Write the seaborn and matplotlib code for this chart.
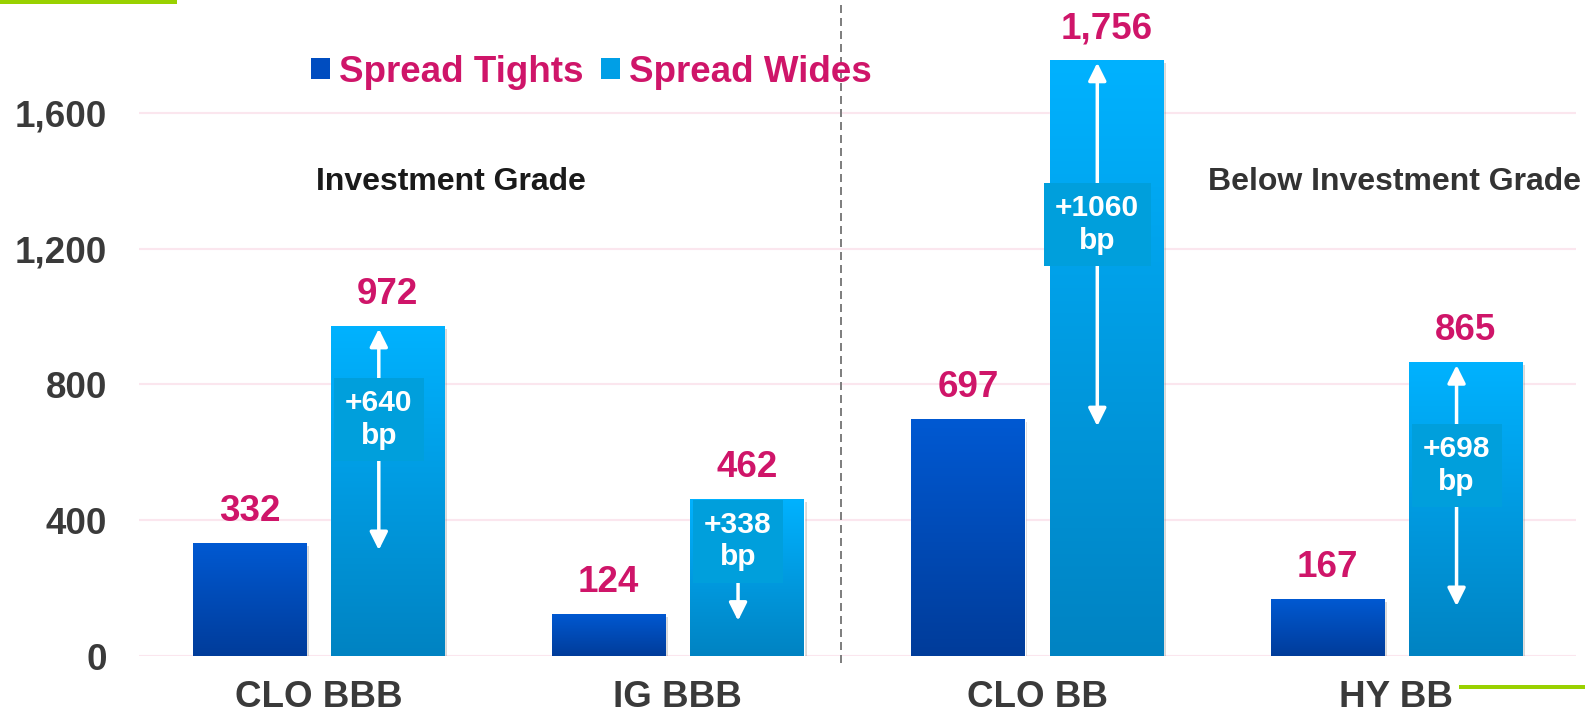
import numpy as np
import pandas as pd
import matplotlib
matplotlib.use("Agg")
import matplotlib.pyplot as plt
import seaborn as sns
from matplotlib.patches import Patch, Rectangle
from matplotlib.colors import LinearSegmentedColormap
import matplotlib.patheffects as pe

# ---------------- data ----------------
categories = ["CLO BBB", "IG BBB", "CLO BB", "HY BB"]
series = ["Spread Tights", "Spread Wides"]
tights = [332, 124, 697, 167]
wides = [972, 462, 1756, 865]
deltas = ["+640\nbp", "+338\nbp", "+1060\nbp", "+698\nbp"]
yticks = [0, 400, 800, 1200, 1600]
section_labels = ["Investment Grade", "Below Investment Grade"]

df = pd.DataFrame({
    "category": categories * 2,
    "series": [series[0]] * len(categories) + [series[1]] * len(categories),
    "value": tights + wides,
})

# ---------------- style ----------------
sns.set_theme(style="white")
plt.rcParams["font.family"] = ["Liberation Sans", "DejaVu Sans"]
plt.rcParams["font.weight"] = "bold"

W, H = 1585, 716
MAGENTA = "#CF1569"
TXT = "#3a3a3a"
FS = 26.5

fig = plt.figure(figsize=(W / 100, H / 100), dpi=100)
ax = fig.add_axes([139 / W, 60 / H, 1437 / W, 644.9 / H])

palette = {series[0]: "#004BB8", series[1]: "#009BE2"}
sns.barplot(data=df, x="category", y="value", hue="series", order=categories,
            hue_order=series, palette=palette, width=0.77, gap=0.18,
            saturation=1, ax=ax, legend=False, zorder=2, errorbar=None)

cmaps = [
    LinearSegmentedColormap.from_list("t", ["#003C9A", "#0059D2"]),
    LinearSegmentedColormap.from_list("w", ["#0083C2", "#00B2FF"]),
]
grad = np.linspace(0, 1, 256)[:, None]
for ci, cont in enumerate(ax.containers):
    for bar in cont:
        bar.set_path_effects([pe.SimplePatchShadow(offset=(2, -2), shadow_rgbFace="0.4", alpha=0.25),
                              pe.Normal()])
        x0, y0, w, h = bar.get_x(), bar.get_y(), bar.get_width(), bar.get_height()
        im = ax.imshow(grad, extent=[x0, x0 + w, y0, y0 + h], origin="lower",
                       cmap=cmaps[ci], aspect="auto", zorder=2.1)
        im.set_clip_path(bar)

# value labels
for ci, cont in enumerate(ax.containers):
    for bar in cont:
        v = bar.get_height()
        ax.annotate(f"{int(round(v)):,}", xy=(bar.get_x() + bar.get_width() / 2, v),
                    xytext=(0, 15.8), textcoords="offset points", ha="center",
                    va="baseline", fontsize=FS, color=MAGENTA, fontweight="bold", zorder=5)

# arrows and delta boxes on the wide bars
xoff = -0.025
for bar, t, wv, d in zip(ax.containers[1], tights, wides, deltas):
    xc = bar.get_x() + bar.get_width() / 2 + xoff
    ax.annotate("", xy=(xc, wv - 8), xytext=(xc, t - 20),
                arrowprops=dict(arrowstyle="<|-|>", color="white", lw=2.5,
                                mutation_scale=27, shrinkA=0, shrinkB=0), zorder=3)
    ax.text(xc, (t + wv) / 2 + 45, d, ha="center", va="center", color="white",
            fontsize=21.5, fontweight="bold", linespacing=1.2, zorder=4,
            bbox=dict(boxstyle="square,pad=0.38", fc="#009FDC", ec="none"))

# axes formatting
ax.set_xlim(-0.5, 3.5)
ax.set_ylim(0, 1900)
ax.set_yticks(yticks)
ax.set_yticklabels([f"{t:,}" for t in yticks])
ax.set_xlabel("")
ax.set_ylabel("")
ax.tick_params(axis="y", length=0, pad=23, labelsize=FS, labelcolor=TXT)
ax.tick_params(axis="x", length=0, pad=17.5, labelsize=FS, labelcolor=TXT)
for lab in ax.get_xticklabels() + ax.get_yticklabels():
    lab.set_fontweight("bold")
for s in ax.spines.values():
    s.set_visible(False)
ax.yaxis.grid(True, color="#FBE6EE", lw=1.5)
ax.set_axisbelow(True)

# divider
ax.plot([1.454, 1.454], [-20, 1935], ls=(0, (4, 2.5)), color="#808080", lw=1.44,
        clip_on=False, zorder=1)

# section labels
ax.text(0.368, 1373, section_labels[0], ha="center", va="baseline", fontsize=23,
        fontweight="bold", color="#1a1a1a")
ax.text(2.996, 1373, section_labels[1], ha="center", va="baseline", fontsize=23,
        fontweight="bold", color="#333333")

# legend
handles = [Patch(facecolor="#004DC0", edgecolor="none"),
           Patch(facecolor="#009FE6", edgecolor="none")]
fig.legend(handles, series, loc="center left", bbox_to_anchor=(311 / W, 1 - 72 / H),
           frameon=False, ncol=2, prop={"weight": "bold", "size": FS},
           handlelength=0.52, handleheight=0.52, handletextpad=0.245,
           columnspacing=0.46, borderpad=0, borderaxespad=0, labelcolor=MAGENTA)

# green accent lines
fig.add_artist(Rectangle((0, 1 - 4 / H), 177 / W, 4 / H, transform=fig.transFigure,
                         color="#99D100", lw=0))
fig.add_artist(Rectangle((1459 / W, 1 - 689 / H), 126 / W, 4 / H, transform=fig.transFigure,
                         color="#99D100", lw=0))

fig.savefig("out.png", dpi=100)
